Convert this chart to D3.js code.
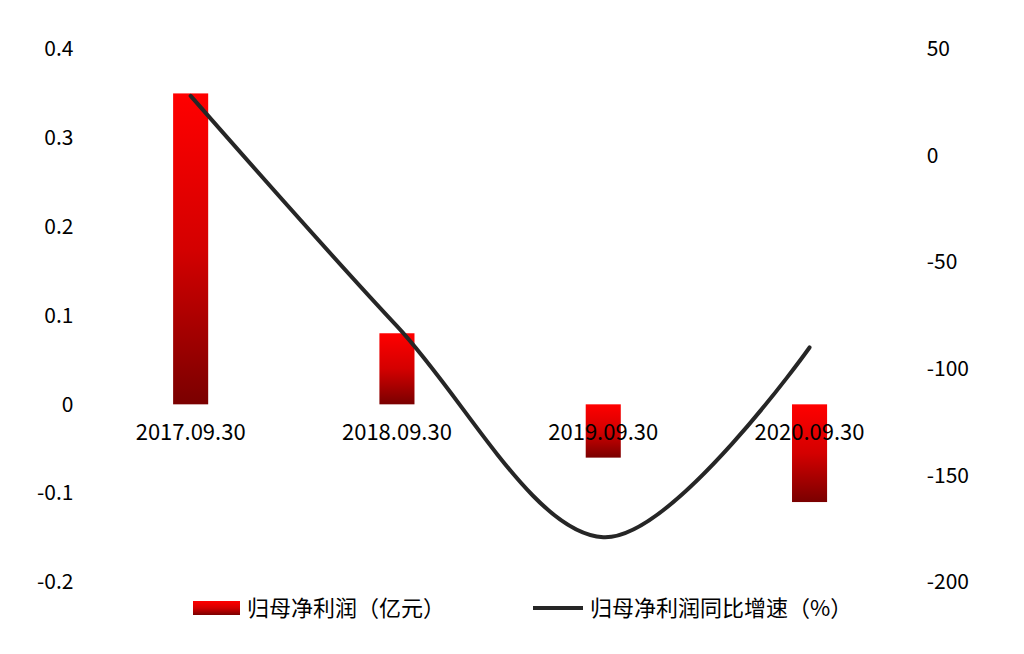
<!DOCTYPE html>
<html>
<head>
<meta charset="utf-8">
<script src="https://cdn.jsdelivr.net/npm/d3@7"></script>
<style>
  body { margin: 0; background: #fff; }
  text { font-family: "Noto Sans CJK SC", "Noto Sans", sans-serif; fill: #000; }
</style>
</head>
<body>
<div id="chart"></div>
<script>
// data
var categories = ['2017.09.30', '2018.09.30', '2019.09.30', '2020.09.30'];
var profit = [0.35, 0.08, -0.06, -0.11];      // 归母净利润（亿元）
var growth = [28, -80, -179, -90];            // 归母净利润同比增速（%）
var leftTicks = [-0.2, -0.1, 0, 0.1, 0.2, 0.3, 0.4];
var rightTicks = [-200, -150, -100, -50, 0, 50];

var W = 1024, H = 654;
var plot = { left: 87.5, right: 912.7, top: 49, bottom: 582 };

var svg = d3.select('#chart').append('svg')
    .attr('width', W)
    .attr('height', H);

var defs = svg.append('defs');
var grad = defs.append('linearGradient')
    .attr('id', 'barGrad')
    .attr('x1', 0).attr('y1', 0).attr('x2', 0).attr('y2', 1);
grad.append('stop').attr('offset', '0%').attr('stop-color', '#ff0000');
grad.append('stop').attr('offset', '50%').attr('stop-color', '#d40000');
grad.append('stop').attr('offset', '100%').attr('stop-color', '#7a0000');

var x = d3.scaleBand()
    .domain(categories)
    .range([plot.left, plot.right])
    .padding(0);

var yL = d3.scaleLinear().domain([-0.2, 0.4]).range([plot.bottom, plot.top]);
var yR = d3.scaleLinear().domain([-200, 50]).range([plot.bottom, plot.top]);

var barW = x.bandwidth() * 0.17;
var hyphen = function(s) { return s.replace('\u2212', '-'); };

// axes, labels only
var axL = svg.append('g')
    .attr('transform', 'translate(' + plot.left + ',0)')
    .call(d3.axisLeft(yL).tickValues(leftTicks).tickSize(0).tickPadding(14)
      .tickFormat(function(d) { return d === 0 ? '0' : hyphen(d3.format('.1f')(d)); }));
axL.select('.domain').remove();
axL.selectAll('text').style('font-size', '21px').style('font-family', '"Noto Sans CJK SC", sans-serif').attr('fill', '#000');

var axR = svg.append('g')
    .attr('transform', 'translate(' + plot.right + ',0)')
    .call(d3.axisRight(yR).tickValues(rightTicks).tickSize(0).tickPadding(14)
      .tickFormat(function(d) { return hyphen(d3.format('d')(d)); }));
axR.select('.domain').remove();
axR.selectAll('text').style('font-size', '21px').style('font-family', '"Noto Sans CJK SC", sans-serif').attr('fill', '#000');

// bars
svg.append('g').selectAll('rect.bar')
    .data(profit)
  .enter().append('rect')
    .attr('class', 'bar')
    .attr('x', function(d, i) { return x(categories[i]) + x.bandwidth() / 2 - barW / 2; })
    .attr('y', function(d) { return yL(Math.max(d, 0)); })
    .attr('width', barW)
    .attr('height', function(d) { return Math.abs(yL(d) - yL(0)); })
    .attr('fill', 'url(#barGrad)');

// category labels under the zero line
svg.append('g').selectAll('text.cat')
    .data(categories)
  .enter().append('text')
    .attr('class', 'cat')
    .attr('x', function(d) { return x(d) + x.bandwidth() / 2; })
    .attr('y', yL(0) + 36)
    .attr('text-anchor', 'middle')
    .style('font-size', '22px')
    .text(function(d) { return d; });

// growth line
var line = d3.line()
    .x(function(d, i) { return x(categories[i]) + x.bandwidth() / 2; })
    .y(function(d) { return yR(d); })
    .curve(d3.curveCatmullRom.alpha(0));

svg.append('path')
    .datum(growth)
    .attr('d', line)
    .attr('fill', 'none')
    .attr('stroke', '#262626')
    .attr('stroke-width', 4)
    .attr('stroke-linecap', 'round');

// legend
var lg = svg.append('g').attr('transform', 'translate(0,608)');
lg.append('rect')
    .attr('x', 193).attr('y', -7)
    .attr('width', 47).attr('height', 14)
    .attr('fill', 'url(#barGrad)');
lg.append('text')
    .attr('x', 247).attr('y', 0).attr('dy', '0.35em')
    .style('font-size', '22px')
    .text('归母净利润（亿元）');
lg.append('line')
    .attr('x1', 533).attr('x2', 583)
    .attr('y1', 0).attr('y2', 0)
    .attr('stroke', '#262626')
    .attr('stroke-width', 4);
lg.append('text')
    .attr('x', 590).attr('y', 0).attr('dy', '0.35em')
    .style('font-size', '22px')
    .text('归母净利润同比增速（%）');
</script>
</body>
</html>
